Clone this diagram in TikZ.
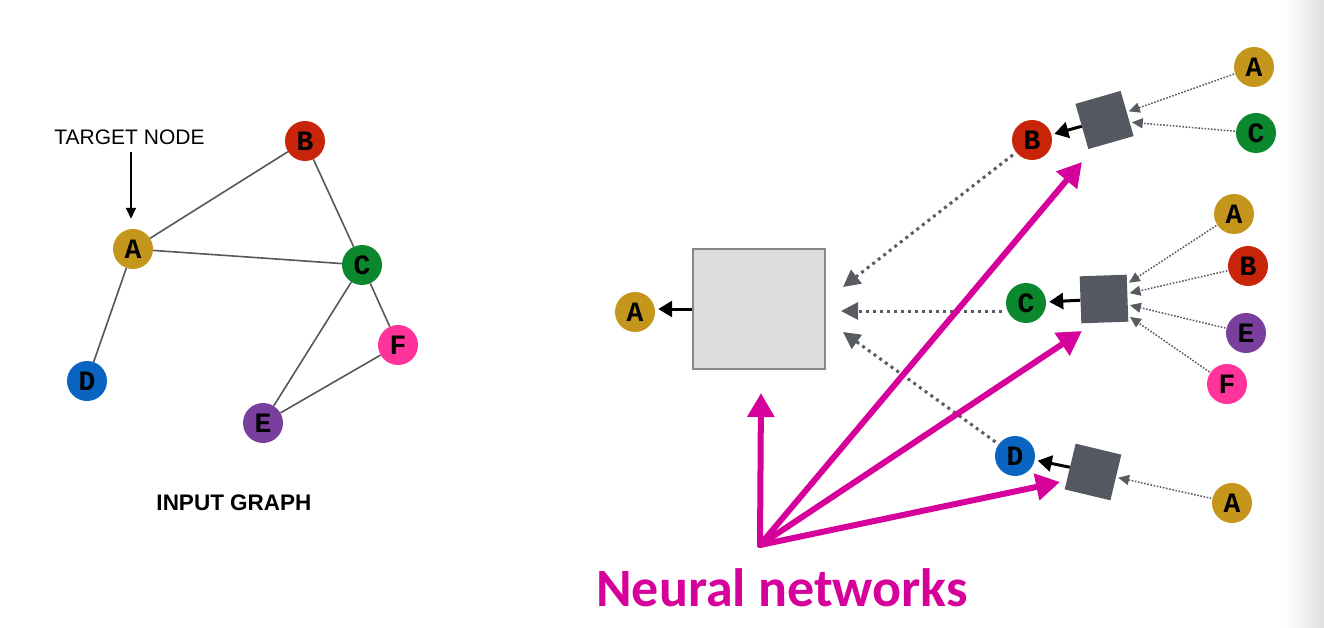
\documentclass[tikz,border=0pt]{standalone}
\usepackage{fontspec}
\setmainfont{Liberation Sans}
\newfontfamily\letterfont{Liberation Mono}
\newfontfamily\nnfont{Carlito}
\usetikzlibrary{arrows.meta,shapes.geometric}
\definecolor{cA}{HTML}{C4961C}
\definecolor{cB}{HTML}{C8240A}
\definecolor{cC}{HTML}{0B872E}
\definecolor{cD}{HTML}{0A64C2}
\definecolor{cE}{HTML}{7A3F9C}
\definecolor{cF}{HTML}{FF3399}
\definecolor{edgec}{HTML}{55575B}
\definecolor{boxc}{HTML}{545860}
\definecolor{bigfill}{HTML}{DCDDDF}
\definecolor{bigdraw}{HTML}{86888C}
\definecolor{magc}{HTML}{D6009A}
\definecolor{dotc}{HTML}{585B61}
\tikzset{
  gnode/.style={circle,minimum size=40pt,inner sep=0pt,font=\letterfont\bfseries\fontsize{28}{28}\selectfont},
  aggbox/.style={rectangle,minimum size=47pt,inner sep=0pt,fill=boxc},
  gedge/.style={draw=edgec,line width=1.6pt},
  outarrow/.style={draw=black,line width=3pt,-{Triangle[length=14pt,width=16pt]},shorten >=3pt},
  smalldot/.style={draw=dotc,line width=1.5pt,dash pattern=on 1.6pt off 1.6pt,-{Triangle[length=11pt,width=10pt]},shorten >=2pt,shorten <=1pt},
  bigdot/.style={draw=dotc,line width=3pt,dash pattern=on 3pt off 4pt,-{Triangle[length=17pt,width=17pt]},shorten <=4pt},
  magarrow/.style={draw=magc,line width=6pt,line cap=round,-{Triangle[length=24pt,width=26pt]}},
}
\begin{document}
\begin{tikzpicture}[x=1pt,y=-1pt]
\useasboundingbox (0,0) rectangle (1324,628);
% right edge shading
\shade[left color=white,right color=black!12] (1284,0) rectangle (1324,628);

% ---- input graph ----
\node[gnode,fill=cA] (A) at (133,249) {A};
\node[gnode,fill=cB] (B) at (305,141) {B};
\node[gnode,fill=cC] (C) at (362,265) {C};
\node[gnode,fill=cD] (D) at (87,381) {D};
\node[gnode,fill=cE] (E) at (263,423) {E};
\node[gnode,fill=cF] (F) at (398,345) {F};
\draw[gedge] (A) -- (B);
\draw[gedge] (A) -- (C);
\draw[gedge] (B) -- (C);
\draw[gedge] (A) -- (D);
\draw[gedge] (C) -- (E);
\draw[gedge] (C) -- (F);
\draw[gedge] (E) -- (F);
\node[font=\fontsize{21}{21}\selectfont,inner sep=0pt] (T) at (129.5,137) {TARGET NODE};
\coordinate (Ttop) at (131,152);
\draw[line width=1.6pt,-{Triangle[length=11pt,width=10pt]},shorten >=10pt] (Ttop) -- (Ttop |- A.north);
\node[font=\bfseries\fontsize{22.5}{22.5}\selectfont,inner sep=0pt] (IG) at (234,503) {INPUT GRAPH};

% ---- aggregation ----
\node[gnode,fill=cA] (A0) at (635,312) {A};
\node[rectangle,minimum width=132pt,minimum height=120pt,fill=bigfill,draw=bigdraw,line width=1.2pt] (big) at (759,309) {};
\draw[outarrow] (big.west) -- (big.west -| A0.east);

% level 1
\node[gnode,fill=cB] (B1) at (1032,140) {B};
\node[gnode,fill=cC] (C1) at (1026,303) {C};
\node[gnode,fill=cD] (D1) at (1015,456) {D};
\node[aggbox,rotate=16] (box1) at (1104.5,120) {};
\node[aggbox,rotate=2] (box2) at (1104,299) {};
\node[aggbox,rotate=-13.5] (box3) at (1093,472) {};
\draw[outarrow] (box1) -- (B1);
\draw[outarrow] (box2) -- (C1);
\draw[outarrow] (box3) -- (D1);

% level 2
\node[gnode,fill=cA] (A11) at (1254,67) {A};
\node[gnode,fill=cC] (C11) at (1256,133) {C};
\node[gnode,fill=cA] (A21) at (1234,214) {A};
\node[gnode,fill=cB] (B21) at (1248,266) {B};
\node[gnode,fill=cE] (E21) at (1246,333) {E};
\node[gnode,fill=cF] (F21) at (1227,384) {F};
\node[gnode,fill=cA] (A31) at (1232,503) {A};
\draw[smalldot] (A11) -- (box1);
\draw[smalldot] (C11) -- (box1);
\draw[smalldot] (A21) -- (box2);
\draw[smalldot] (B21) -- (box2);
\draw[smalldot] (E21) -- (box2);
\draw[smalldot] (F21) -- (box2);
\draw[smalldot] (A31) -- (box3);

% heavy dotted to big box
\coordinate (tB) at (843,287);
\coordinate (tC) at (841,311);
\coordinate (tD) at (843,332);
\draw[bigdot] (B1) -- (tB);
\draw[bigdot] (C1.west |- tC) -- (tC);
\draw[bigdot] (D1) -- (tD);

% neural network arrows
\coordinate (O) at (760,545);
\coordinate (m0) at (761,393);
\coordinate (m1) at (1082,162);
\coordinate (m2) at (1082,331);
\coordinate (m3) at (1060,482);
\draw[magarrow] (O) -- (m0);
\draw[magarrow] (O) -- (m1);
\draw[magarrow] (O) -- (m2);
\draw[magarrow] (O) -- (m3);
\node[text=magc,font=\nnfont\bfseries\fontsize{54}{54}\selectfont,inner sep=0pt] (NN) at (782,588) {Neural networks};
\end{tikzpicture}
\end{document}
